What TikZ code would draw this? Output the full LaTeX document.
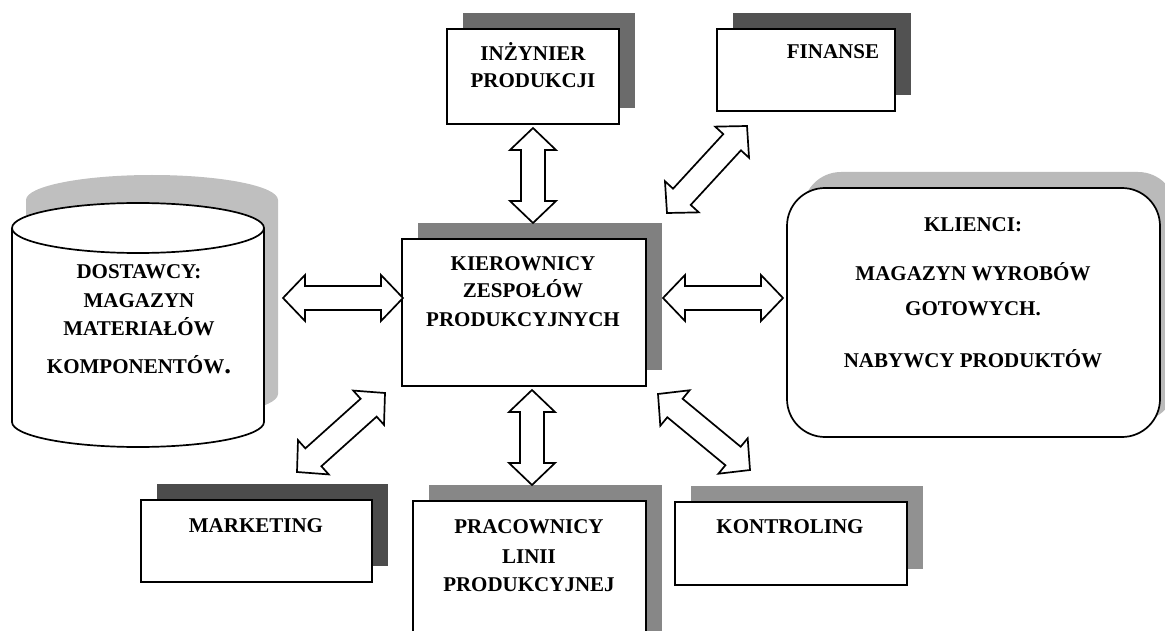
\documentclass[tikz,border=0pt]{standalone}
\usepackage{fontspec}
\setmainfont{Liberation Serif}
\usetikzlibrary{calc,shadows}

% double-headed block arrow between two named tip coordinates
\newcommand\twoway[2]{%
  \coordinate (#1h) at ($(#1)!22pt!(#2)$);
  \coordinate (#2h) at ($(#2)!22pt!(#1)$);
  \draw[blockarrow] (#1)
    -- ($(#1h)!23pt!90:(#2)$) -- ($(#1h)!12pt!90:(#2)$)
    -- ($(#2h)!12pt!-90:(#1)$) -- ($(#2h)!23pt!-90:(#1)$)
    -- (#2)
    -- ($(#2h)!23pt!90:(#1)$) -- ($(#2h)!12pt!90:(#1)$)
    -- ($(#1h)!12pt!-90:(#2)$) -- ($(#1h)!23pt!-90:(#2)$)
    -- cycle;}

\begin{document}
\begin{tikzpicture}[x=1pt,y=-1pt,
  box/.style={draw, line width=1.7pt, fill=white, rectangle, inner sep=0pt},
  shade/.style={drop shadow={shadow xshift=16pt, shadow yshift=16pt, fill=#1, opacity=1}},
  lbl/.style={font=\bfseries\fontsize{21}{27}\selectfont, anchor=base, inner sep=0pt},
  blockarrow/.style={draw, fill=white, line width=1.7pt, line join=miter}]

\useasboundingbox (0,0) rectangle (1165,631);
\clip (0,0) rectangle (1165,631);

% suppliers: cylinder with its shadow
\begin{scope}[xshift=14pt, yshift=28pt]
  \fill[black!25] (12,228) -- (12,422)
    arc[start angle=180, end angle=360, x radius=126pt, y radius=25pt]
    -- (264,228)
    arc[start angle=0, end angle=180, x radius=126pt, y radius=25pt] -- cycle;
\end{scope}
\filldraw[fill=white, line width=1.7pt] (12,228) -- (12,422)
  arc[start angle=180, end angle=360, x radius=126pt, y radius=25pt]
  -- (264,228)
  arc[start angle=0, end angle=180, x radius=126pt, y radius=25pt] -- cycle;
\draw[line width=1.7pt] (264,228)
  arc[start angle=0, end angle=-180, x radius=126pt, y radius=25pt];

% boxes
\node[box, shade=black!50, minimum width=244pt, minimum height=147pt] (centre) at (524,312.5) {};
\node[box, shade=black!58, minimum width=172pt, minimum height=95pt] (eng) at (533,76.5) {};
\node[box, shade=black!68, minimum width=178pt, minimum height=82pt] (fin) at (806,70) {};
\node[box, shade=black!27, rounded corners=38pt, minimum width=373pt, minimum height=249pt] (cust) at (973.5,312.5) {};
\node[box, shade=black!70, minimum width=231pt, minimum height=82pt] (mkt) at (256.5,541) {};
\node[box, shade=black!47, minimum width=233pt, minimum height=149pt] (line) at (529.5,575.5) {};
\node[box, shade=black!43, minimum width=232pt, minimum height=83pt] (ctrl) at (791,543.5) {};

% labels
\node[lbl] (t-c1) at (523,271) {KIEROWNICY};
\node[lbl] (t-c2) at (523,298) {ZESPOŁÓW};
\node[lbl] (t-c3) at (523,326) {PRODUKCYJNYCH};

\node[lbl] (t-e1) at (533,61) {INŻYNIER};
\node[lbl] (t-e2) at (533,88) {PRODUKCJI};

\node[lbl] (t-f1) at (833,59) {FINANSE};

\node[lbl] (t-s1) at (139,279) {DOSTAWCY:};
\node[lbl] (t-s2) at (139,307) {MAGAZYN};
\node[lbl] (t-s3) at (139,335) {MATERIAŁÓW};
\node[lbl] (t-s4) at (139,373) {KOMPONENTÓW{\fontsize{27}{27}\selectfont.}};

\node[lbl] (t-k1) at (973,232) {KLIENCI:};
\node[lbl] (t-k2) at (973,280) {MAGAZYN WYROBÓW};
\node[lbl] (t-k3) at (973,316) {GOTOWYCH.};
\node[lbl] (t-k4) at (973,367) {NABYWCY PRODUKTÓW};

\node[lbl] (t-m1) at (256,532) {MARKETING};

\node[lbl] (t-p1) at (529,533) {PRACOWNICY};
\node[lbl] (t-p2) at (529,563) {LINII};
\node[lbl] (t-p3) at (529,591) {PRODUKCYJNEJ};

\node[lbl] (t-r1) at (790,533) {KONTROLING};

% arrow tips
\coordinate (a1s) at (533,128); \coordinate (a1e) at (533,223);
\coordinate (a2s) at (532,390); \coordinate (a2e) at (532,485);
\coordinate (a3s) at (283,298); \coordinate (a3e) at (403,298);
\coordinate (a4s) at (663,298); \coordinate (a4e) at (783,298);
\coordinate (a5s) at (667,213); \coordinate (a5e) at (747,126);
\coordinate (a6s) at (297,472); \coordinate (a6e) at (385,393);
\coordinate (a7s) at (658,394); \coordinate (a7e) at (750,470);

\twoway{a1s}{a1e}
\twoway{a2s}{a2e}
\twoway{a3s}{a3e}
\twoway{a4s}{a4e}
\twoway{a5s}{a5e}
\twoway{a6s}{a6e}
\twoway{a7s}{a7e}
\end{tikzpicture}
\end{document}
